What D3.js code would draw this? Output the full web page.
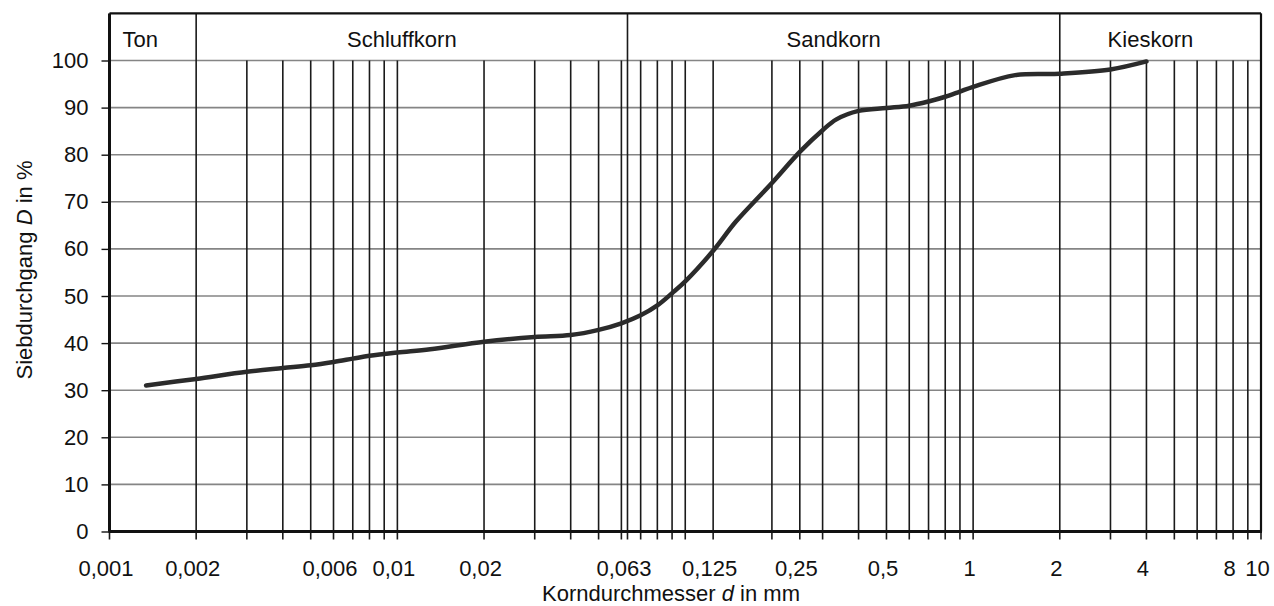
<!DOCTYPE html>
<html>
<head>
<meta charset="utf-8">
<script src="https://cdn.jsdelivr.net/npm/d3@7"></script>
<style>
  body { margin: 0; background: #fff; }
  text { font-family: "Liberation Sans", Arial, sans-serif; fill: #111; }
</style>
</head>
<body>
<svg id="chart" width="1274" height="606"></svg>
<script>
// Sieblinie (grain size distribution)
var grainSize = [0.00134, 0.002, 0.003, 0.004, 0.005, 0.006, 0.007, 0.008, 0.01, 0.013,
                 0.02, 0.03, 0.04, 0.05, 0.06, 0.07, 0.08, 0.09, 0.1, 0.125, 0.15, 0.2,
                 0.25, 0.3, 0.335, 0.4, 0.5, 0.6, 0.7, 0.8, 0.9, 1, 1.4, 2, 3, 4];
var passing   = [31, 32.4, 33.9, 34.7, 35.3, 36.0, 36.7, 37.3, 38.0, 38.7,
                 40.3, 41.3, 41.7, 42.8, 44.2, 45.9, 48.0, 50.6, 53.1, 59.6, 65.8, 74.0,
                 80.6, 85.2, 87.5, 89.3, 89.9, 90.4, 91.3, 92.3, 93.4, 94.4, 96.9, 97.2, 98.1, 99.8];

var xTickLabels = [0.001, 0.002, 0.006, 0.01, 0.02, 0.063, 0.125, 0.25, 0.5, 1, 2, 4, 8, 10];
var yTicks = [0, 10, 20, 30, 40, 50, 60, 70, 80, 90, 100];
var extraLines = [0.063, 0.125, 0.25];

var zoneNames = ["Ton", "Schluffkorn", "Sandkorn", "Kieskorn"];
var zoneBounds = [0.001, 0.002, 0.063, 2, 10];

var svg = d3.select("#chart");

var x = d3.scaleLog().domain([0.001, 10]).range([109.5, 1261]);
var y = d3.scaleLinear().domain([0, 100]).range([531.5, 60.5]);
var yTop = y(110);

var de = d3.formatLocale({decimal: ",", thousands: ".", grouping: [3], currency: ["", " €"]});
var fmt = de.format("~g");

// vertical grid values: 1..9 per decade plus the norm sieve sizes
var vLines = [];
[0.001, 0.01, 0.1, 1].forEach(function(dec) {
  for (var k = 1; k <= 9; k++) vLines.push(+(k * dec).toPrecision(3));
});
vLines.push(10);
vLines = vLines.concat(extraLines);

// horizontal grid lines
svg.append("g")
  .selectAll("line")
  .data(yTicks.slice(1))
  .enter().append("line")
  .attr("x1", x.range()[0]).attr("x2", x.range()[1])
  .attr("y1", function(d) { return y(d); })
  .attr("y2", function(d) { return y(d); })
  .attr("stroke", "#858585")
  .attr("stroke-width", 1.6);

// vertical grid lines, running a bit under the axis as ticks
svg.append("g")
  .selectAll("line")
  .data(vLines)
  .enter().append("line")
  .attr("x1", function(d) { return x(d); })
  .attr("x2", function(d) { return x(d); })
  .attr("y1", function(d) { return zoneBounds.indexOf(d) >= 0 ? yTop : y(100); })
  .attr("y2", y(0) + 8)
  .attr("stroke", "#1a1a1a")
  .attr("stroke-width", 1.6);

// frame
svg.append("line")
  .attr("x1", x.range()[0]).attr("x2", x.range()[1])
  .attr("y1", yTop).attr("y2", yTop)
  .attr("stroke", "#111").attr("stroke-width", 2.2);
svg.append("line")
  .attr("x1", x.range()[1]).attr("x2", x.range()[1])
  .attr("y1", yTop).attr("y2", y(0))
  .attr("stroke", "#111").attr("stroke-width", 2.2);
svg.append("line")
  .attr("x1", x.range()[0]).attr("x2", x.range()[0])
  .attr("y1", yTop).attr("y2", y(0))
  .attr("stroke", "#111").attr("stroke-width", 3);
svg.append("line")
  .attr("x1", x.range()[0] - 1).attr("x2", x.range()[1] + 1)
  .attr("y1", y(0)).attr("y2", y(0))
  .attr("stroke", "#111").attr("stroke-width", 3);

// zone headings
svg.append("g")
  .selectAll("text")
  .data(zoneNames)
  .enter().append("text")
  .attr("x", function(d, i) {
    if (i == 0) return x(zoneBounds[0]) + 13;
    return (x(zoneBounds[i]) + x(zoneBounds[i + 1])) / 2 - 10;
  })
  .attr("y", 47)
  .attr("text-anchor", function(d, i) { return i == 0 ? "start" : "middle"; })
  .attr("font-size", 22)
  .text(function(d) { return d; });

// y axis
var yAxis = svg.append("g")
  .attr("transform", "translate(" + x.range()[0] + ",0)")
  .call(d3.axisLeft(y).tickValues(yTicks).tickSize(8).tickPadding(13));
yAxis.select(".domain").remove();
yAxis.selectAll("line").attr("stroke", "#111").attr("stroke-width", 1.4);
yAxis.selectAll("text").attr("font-size", 22).attr("font-family", "Liberation Sans, Arial, sans-serif").attr("fill", "#111");

// x axis labels
var xAxis = svg.append("g")
  .attr("transform", "translate(0," + y(0) + ")")
  .call(d3.axisBottom(x).tickValues(xTickLabels).tickFormat(fmt).tickSize(0).tickPadding(29));
xAxis.select(".domain").remove();
xAxis.selectAll("text").attr("font-size", 22).attr("dx", -4)
  .attr("font-family", "Liberation Sans, Arial, sans-serif").attr("fill", "#111");

// axis titles
var xt = svg.append("text")
  .attr("x", 671).attr("y", 601)
  .attr("text-anchor", "middle")
  .attr("font-size", 22);
xt.append("tspan").text("Korndurchmesser ");
xt.append("tspan").attr("font-style", "italic").text("d");
xt.append("tspan").text(" in mm");

var yt = svg.append("text")
  .attr("transform", "translate(32,270) rotate(-90)")
  .attr("text-anchor", "middle")
  .attr("font-size", 22);
yt.append("tspan").text("Siebdurchgang ");
yt.append("tspan").attr("font-style", "italic").text("D");
yt.append("tspan").text(" in %");

// the grading curve
var line = d3.line()
  .x(function(d) { return x(d[0]); })
  .y(function(d) { return y(d[1]); })
  .curve(d3.curveCatmullRom.alpha(0.5));

svg.append("path")
  .datum(d3.zip(grainSize, passing))
  .attr("d", line)
  .attr("fill", "none")
  .attr("stroke", "#2b2b2b")
  .attr("stroke-width", 4.5)
  .attr("stroke-linecap", "round")
  .attr("stroke-linejoin", "round");
</script>
</body>
</html>
